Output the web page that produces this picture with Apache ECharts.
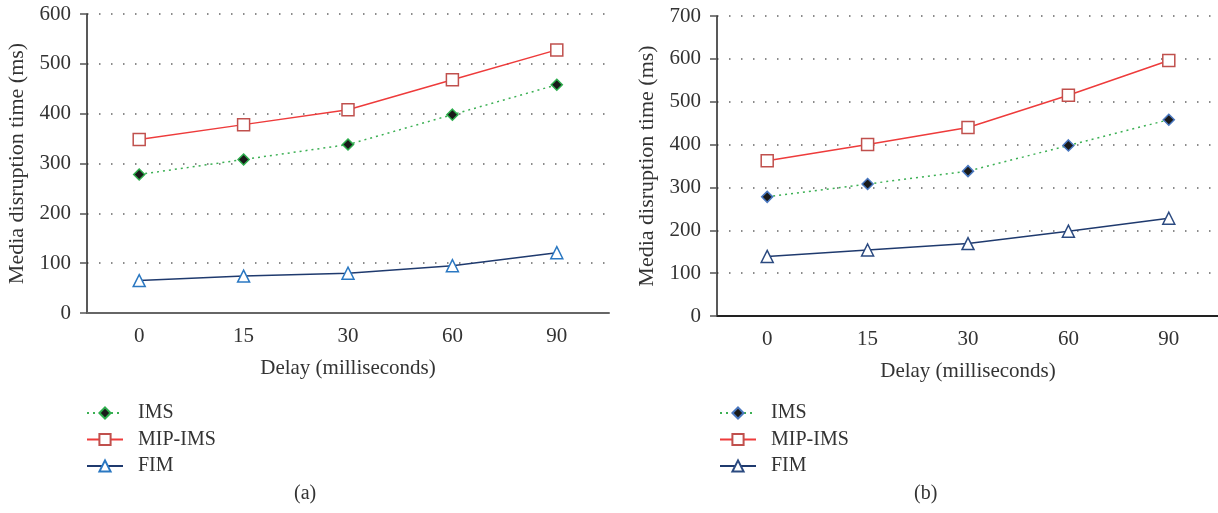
<!DOCTYPE html>
<html>
<head>
<meta charset="utf-8">
<script src="https://cdn.jsdelivr.net/npm/echarts@6/dist/echarts.min.js"></script>
<style>
  html, body { margin: 0; padding: 0; background: #fff; overflow: hidden; }
  .panel { position: absolute; top: 0; height: 513px; }
  #chartA { left: 0; width: 612px; }
  #chartB { left: 612px; width: 606px; }
  .cap { position: absolute; top: 481px; font: 20px "Liberation Serif", serif; color: #333; }
</style>
</head>
<body>
<div id="chartA" class="panel"></div>
<div id="chartB" class="panel"></div>
<div class="cap" style="left:294px">(a)</div>
<div class="cap" style="left:914px">(b)</div>
<script>
// delay categories
const delays = ['0', '15', '30', '60', '90']
const seriesNames = ['IMS', 'MIP-IMS', 'FIM']

// panel (a)
const imsA = [278, 308, 338, 398, 458]
const mipA = [348, 378, 408, 468, 528]
const fimA = [65, 74, 80, 95, 121]

// panel (b)
const imsB = [278, 308, 338, 398, 458]
const mipB = [362, 400, 440, 515, 596]
const fimB = [139, 154, 169, 198, 228]

const FONT = '"Liberation Serif", "DejaVu Serif", serif'

const buildOption = (cfg) => ({
  animation: false,
  textStyle: { fontFamily: FONT },
  grid: {
    left: cfg.gridLeft,
    width: cfg.gridWidth,
    top: cfg.gridTop,
    height: cfg.gridHeight,
    outerBoundsMode: 'none'
  },
  legend: {
    orient: 'vertical',
    left: cfg.legendLeft,
    top: 398,
    itemWidth: 36,
    itemHeight: 14,
    itemGap: 6.5,
    data: seriesNames,
    textStyle: { fontFamily: FONT, fontSize: 20, color: '#333', padding: [0, 0, 0, 10] }
  },
  xAxis: {
    type: 'category',
    data: delays,
    boundaryGap: true,
    name: 'Delay (milliseconds)',
    nameLocation: 'middle',
    nameGap: 45,
    nameTextStyle: { fontFamily: FONT, fontSize: 21, color: '#333' },
    axisLine: { lineStyle: { color: cfg.xAxisColor, width: 2 } },
    axisTick: { alignWithLabel: true, length: 6, lineStyle: { color: '#333', width: 1.5 } },
    axisLabel: { fontFamily: FONT, fontSize: 21, color: '#333', margin: 13 },
    splitLine: { show: false }
  },
  yAxis: {
    type: 'value',
    min: 0,
    max: cfg.yMax,
    interval: 100,
    name: 'Media disruption time (ms)',
    nameLocation: 'middle',
    nameGap: 58,
    nameTextStyle: { fontFamily: FONT, fontSize: 22, color: '#333' },
    axisLine: { show: true, lineStyle: { color: '#222', width: 1.5 } },
    axisTick: { show: true, length: 7, lineStyle: { color: '#555', width: 1.5 } },
    axisLabel: { fontFamily: FONT, fontSize: 21, color: '#333', margin: 16 },
    splitLine: { show: true, lineStyle: { color: '#666', type: [1.5, 10.5], width: 1.5 } }
  },
  series: [
    {
      name: 'IMS',
      type: 'line',
      data: cfg.ims,
      symbol: 'diamond',
      symbolSize: 11,
      lineStyle: { color: '#3cb054', width: 1.5, type: [2, 4] },
      itemStyle: { color: '#1a1a1a', borderColor: cfg.imsBorder, borderWidth: 1.5 },
      z: 3
    },
    {
      name: 'MIP-IMS',
      type: 'line',
      data: cfg.mip,
      symbol: 'rect',
      symbolSize: 12,
      lineStyle: { color: '#ee3b3b', width: 1.5 },
      itemStyle: { color: '#ffffff', borderColor: '#c0504d', borderWidth: 1.5 },
      z: 3
    },
    {
      name: 'FIM',
      type: 'line',
      data: cfg.fim,
      symbol: 'triangle',
      symbolSize: 12,
      lineStyle: { color: '#1f3a6e', width: 1.5 },
      itemStyle: { color: '#ffffff', borderColor: cfg.fimBorder, borderWidth: 1.5 },
      z: 3
    }
  ]
})

const chartA = echarts.init(document.getElementById('chartA'))
chartA.setOption(buildOption({
  gridLeft: 87, gridWidth: 522, gridTop: 14, gridHeight: 299,
  legendLeft: 81, yMax: 600, xAxisColor: '#666',
  ims: imsA, mip: mipA, fim: fimA,
  imsBorder: '#2fae4e', fimBorder: '#2b78c2'
}))

const chartB = echarts.init(document.getElementById('chartB'))
chartB.setOption(buildOption({
  gridLeft: 105, gridWidth: 502, gridTop: 16, gridHeight: 300,
  legendLeft: 102, yMax: 700, xAxisColor: '#222',
  ims: imsB, mip: mipB, fim: fimB,
  imsBorder: '#4a78c0', fimBorder: '#2b4a80'
}))
</script>
</body>
</html>
